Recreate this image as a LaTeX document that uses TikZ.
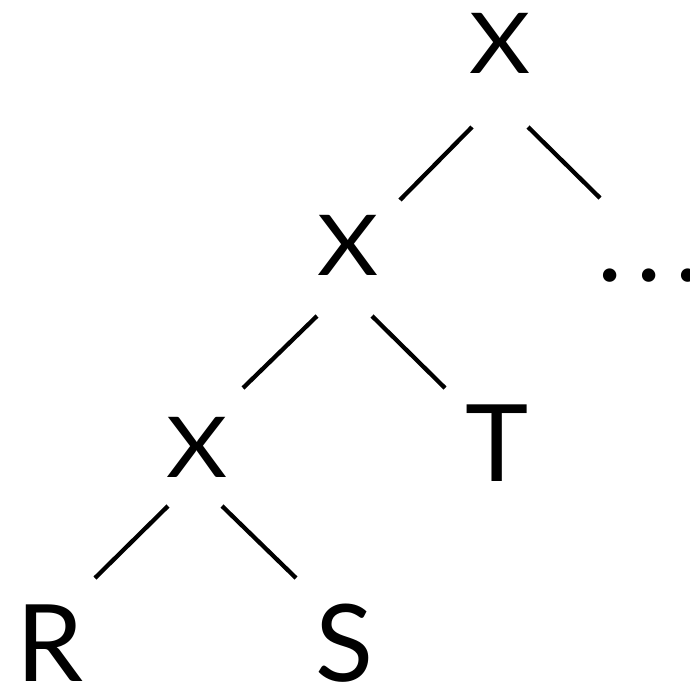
\documentclass[tikz,border=0pt]{standalone}
\usepackage{fontspec}
\usepackage{graphicx}
\setmainfont{Lato}
\begin{document}
\begin{tikzpicture}[x=1pt,y=-1pt,
  lbl/.style={inner sep=0pt, outer sep=0pt, anchor=center, font=\fontsize{107}{107}\selectfont},
  op/.style={inner sep=0pt, outer sep=0pt, anchor=center, font=\fontsize{84}{84}\selectfont},
  edge/.style={line width=4.3pt}]
\useasboundingbox (0,0) rectangle (690,686);
\node[op] (x1) at (500,43) {\scalebox{1.12}[1]{X}};
\node[op] (x2) at (348,245) {\scalebox{1.12}[1]{X}};
\node[op] (x3) at (197,447) {\scalebox{1.12}[1]{X}};
\node[lbl] (t) at (497,443) {T};
\node[lbl] (r) at (50,643) {R};
\node[lbl] (s) at (345,643) {S};
\node[lbl] (d) at (649,276) {.\hspace{14pt}.\hspace{14pt}.};
\draw[edge] ([shift={(-28,84)}]x1.center) -- ([shift={(52,-45)}]x2.center);
\draw[edge] ([shift={(28,84)}]x1.center) -- ([shift={(-49,-78)}]d.center);
\draw[edge] ([shift={(-31,71)}]x2.center) -- ([shift={(46,-59)}]x3.center);
\draw[edge] ([shift={(24,71)}]x2.center) -- ([shift={(-52,-55)}]t.center);
\draw[edge] ([shift={(-29,59)}]x3.center) -- ([shift={(45,-65)}]r.center);
\draw[edge] ([shift={(25,59)}]x3.center) -- ([shift={(-49,-65)}]s.center);
\end{tikzpicture}
\end{document}
